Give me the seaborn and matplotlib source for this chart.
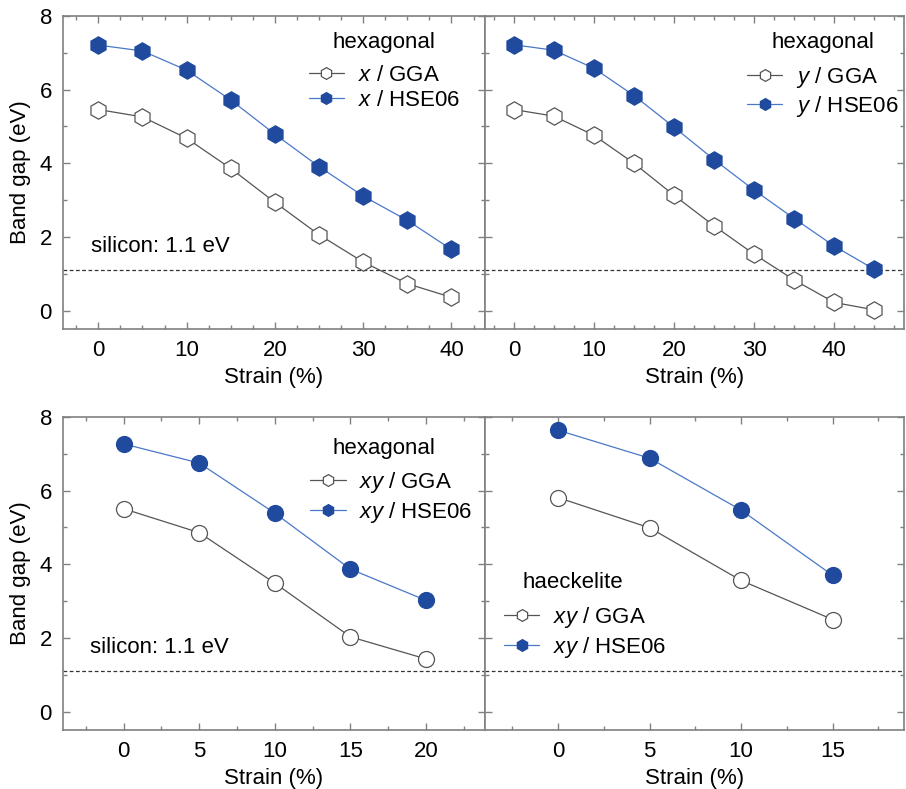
import numpy as np
import pandas as pd
import matplotlib
matplotlib.use('Agg')
import matplotlib.pyplot as plt
from matplotlib.lines import Line2D
from matplotlib.ticker import MultipleLocator
import seaborn as sns

# band gap (eV) vs strain (%)
strain_x = [0, 5, 10, 15, 20, 25, 30, 35, 40]
gap_x_gga = [5.46, 5.26, 4.68, 3.86, 2.94, 2.06, 1.32, 0.73, 0.36]
gap_x_hse = [7.21, 7.05, 6.53, 5.72, 4.79, 3.91, 3.11, 2.45, 1.66]

strain_y = [0, 5, 10, 15, 20, 25, 30, 35, 40, 45]
gap_y_gga = [5.46, 5.28, 4.76, 4.00, 3.13, 2.30, 1.53, 0.83, 0.22, 0.02]
gap_y_hse = [7.22, 7.07, 6.58, 5.84, 4.98, 4.10, 3.27, 2.50, 1.75, 1.12]

strain_hex = [0, 5, 10, 15, 20]
gap_hex_gga = [5.51, 4.86, 3.49, 2.03, 1.43]
gap_hex_hse = [7.27, 6.75, 5.39, 3.87, 3.02]

strain_hae = [0, 5, 10, 15]
gap_hae_gga = [5.81, 4.99, 3.56, 2.50]
gap_hae_hse = [7.64, 6.88, 5.47, 3.70]

silicon_gap = 1.1

sns.set_style('ticks')
plt.rcParams['font.family'] = ['Liberation Sans', 'DejaVu Sans']
plt.rcParams['mathtext.fontset'] = 'custom'
plt.rcParams['mathtext.rm'] = 'Liberation Sans'
plt.rcParams['mathtext.it'] = 'Liberation Sans:italic'
plt.rcParams['text.color'] = 'black'
plt.rcParams['axes.labelcolor'] = 'black'
plt.rcParams['xtick.labelcolor'] = 'black'
plt.rcParams['ytick.labelcolor'] = 'black'

BLUE = '#1f4a9e'
BLUE_LINE = '#4a78c8'
GREY = '#555555'
SPINE = '#808080'
FS = 16

fig = plt.figure(figsize=(9.06, 7.89), dpi=100)
W, H = 906, 789


def make_ax(l, t, r, b):
    return fig.add_axes([l / W, 1 - b / H, (r - l) / W, (b - t) / H])


ax_tl = make_ax(63, 16, 485, 329)
ax_tr = make_ax(485, 16, 904, 329)
ax_bl = make_ax(63, 417, 485, 730)
ax_br = make_ax(485, 417, 904, 730)


def draw(ax, xs, gga, hse, marker, ms):
    df = pd.DataFrame({'strain': xs, 'gga': gga, 'hse': hse})
    sns.lineplot(data=df, x='strain', y='gga', ax=ax, color=GREY, lw=0.9,
                 marker=marker, markersize=ms, markerfacecolor='white',
                 markeredgecolor=GREY, markeredgewidth=0.9, zorder=3)
    sns.lineplot(data=df, x='strain', y='hse', ax=ax, color=BLUE_LINE, lw=0.9,
                 marker=marker, markersize=ms, markerfacecolor=BLUE,
                 markeredgecolor=BLUE, markeredgewidth=0.9, zorder=3)


def legend(ax, lab, title, anchor, loc, title_xy):
    handles = [
        Line2D([], [], color=GREY, lw=0.9, marker='h', ms=8.5,
               mfc='white', mec=GREY, mew=0.9),
        Line2D([], [], color=BLUE_LINE, lw=0.9, marker='h', ms=8.5,
               mfc=BLUE, mec=BLUE, mew=0.9),
    ]
    ax.legend(handles, [f'$\\it{{{lab}}}$ / GGA', f'$\\it{{{lab}}}$ / HSE06'],
              loc=loc, bbox_to_anchor=anchor, frameon=False, fontsize=FS,
              handlelength=1.6, handletextpad=0.6, labelspacing=0.2,
              borderaxespad=0, borderpad=0)
    ax.text(*title_xy, title, transform=ax.transAxes, fontsize=FS,
            ha='center', va='center')


draw(ax_tl, strain_x, gap_x_gga, gap_x_hse, 'h', 12.5)
draw(ax_tr, strain_y, gap_y_gga, gap_y_hse, 'h', 12.5)
draw(ax_bl, strain_hex, gap_hex_gga, gap_hex_hse, 'o', 11.5)
draw(ax_br, strain_hae, gap_hae_gga, gap_hae_hse, 'o', 11.5)

legend(ax_tl, 'x', 'hexagonal', (0.94, 0.845), 'upper right', (0.76, 0.914))
legend(ax_tr, 'y', 'hexagonal', (0.986, 0.845), 'upper right', (0.807, 0.914))
legend(ax_bl, 'xy', 'hexagonal', (0.97, 0.83), 'upper right', (0.76, 0.90))
legend(ax_br, 'xy', 'haeckelite', (0.045, 0.225), 'lower left', (0.21, 0.47))

ax_tl.set_xlim(-4, 43.8)
ax_tr.set_xlim(-3.6, 48.7)
ax_bl.set_xlim(-4, 23.9)
ax_br.set_xlim(-4, 18.9)

ax_tl.set_xticks([0, 10, 20, 30, 40])
ax_tr.set_xticks([0, 10, 20, 30, 40])
ax_bl.set_xticks([0, 5, 10, 15, 20])
ax_br.set_xticks([0, 5, 10, 15])

for ax in (ax_tl, ax_tr, ax_bl, ax_br):
    ax.set_ylim(-0.5, 8)
    ax.set_yticks([0, 2, 4, 6, 8])
    ax.xaxis.set_minor_locator(MultipleLocator(2.5))
    ax.yaxis.set_minor_locator(MultipleLocator(1))
    ax.axhline(silicon_gap, color='#333333', lw=0.9, ls=(0, (3, 2)), zorder=2)
    ax.tick_params(which='both', direction='in', top=True, right=True,
                   color=SPINE, labelsize=FS, labelcolor='black',
                   width=1.0, pad=8)
    ax.tick_params(which='major', length=5)
    ax.tick_params(which='minor', length=3)
    for s in ax.spines.values():
        s.set_color(SPINE)
        s.set_linewidth(1.2)
    ax.set_xlabel('Strain (%)', fontsize=FS, labelpad=4, color='black')
    ax.set_ylabel('')

for ax in (ax_tr, ax_br):
    ax.tick_params(labelleft=False)

for ax in (ax_tl, ax_bl):
    ax.set_ylabel('Band gap (eV)', fontsize=FS, labelpad=6, color='black')

ax_tl.text(-0.83, 1.75, 'silicon: 1.1 eV', fontsize=FS, ha='left', va='center')
ax_bl.text(-2.2, 1.75, 'silicon: 1.1 eV', fontsize=FS, ha='left', va='center')

fig.savefig('out.png', dpi=100)
